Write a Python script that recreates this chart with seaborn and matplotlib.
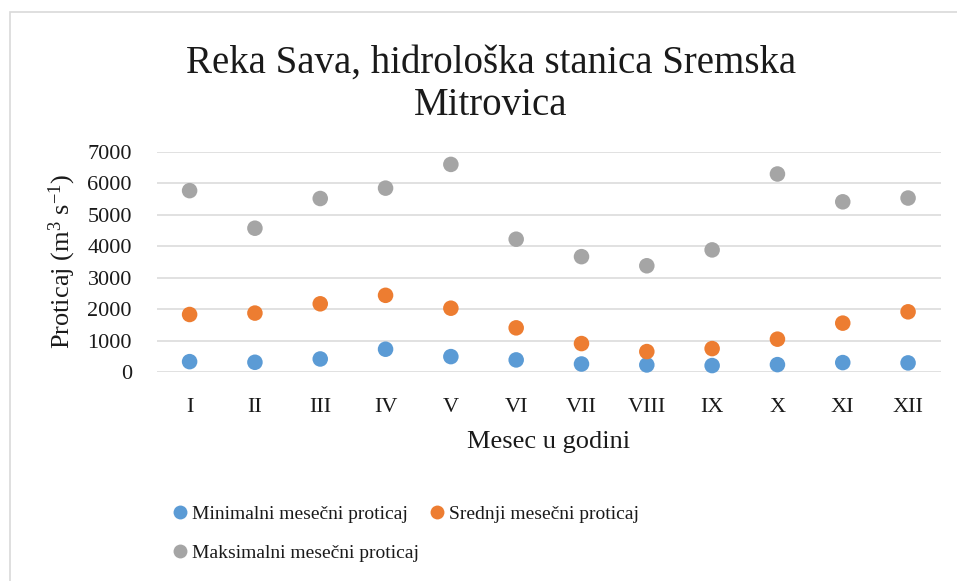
import matplotlib.pyplot as plt
import matplotlib.patches as mpatches
import seaborn as sns
import pandas as pd

months = ["I", "II", "III", "IV", "V", "VI", "VII", "VIII", "IX", "X", "XI", "XII"]
min_flow = [330, 310, 415, 725, 490, 385, 255, 225, 205, 235, 300, 290]
mean_flow = [1830, 1875, 2170, 2440, 2030, 1405, 905, 650, 745, 1045, 1555, 1915]
max_flow = [5770, 4575, 5520, 5850, 6605, 4225, 3670, 3380, 3885, 6300, 5415, 5535]

series = ["Minimalni mesečni proticaj", "Srednji mesečni proticaj", "Maksimalni mesečni proticaj"]
colors = ["#5B9BD5", "#ED7D31", "#A5A5A5"]

df = pd.concat([
    pd.DataFrame({"mesec": months, "proticaj": vals, "serija": name})
    for name, vals in zip(series, [min_flow, mean_flow, max_flow])
])

sns.set_theme(style="white")
plt.rcParams["font.family"] = ["Liberation Serif", "DejaVu Serif"]
plt.rcParams["mathtext.fontset"] = "custom"
plt.rcParams["mathtext.rm"] = "Liberation Serif"
plt.rcParams["mathtext.it"] = "Liberation Serif"

txt = "#1a1a1a"
fig = plt.figure(figsize=(9.57, 5.81), dpi=100)
ax = fig.add_axes([0.164, 0.3597, 0.819, 0.3787])

sns.scatterplot(data=df, x="mesec", y="proticaj", hue="serija", hue_order=series,
                palette=colors, s=125, edgecolor="none", ax=ax, zorder=3,
                clip_on=False, legend=False)

ax.set_xlim(-0.5, 11.5)
ax.set_ylim(0, 7000)
ax.set_yticks(range(0, 7001, 1000))
ax.yaxis.grid(True, color="#D9D9D9", linewidth=1.1)
ax.set_axisbelow(True)
for sp in ax.spines.values():
    sp.set_visible(False)
ax.tick_params(axis="both", length=0, labelsize=16, colors=txt)
ax.tick_params(axis="x", pad=19)
ax.tick_params(axis="y", pad=18)
ax.set_xlabel("")
ax.set_ylabel("")

fig.text(0.513, 0.855, "Reka Sava, hidrološka stanica Sremska\nMitrovica",
         ha="center", va="center", fontsize=28, color=txt, linespacing=1.2)
fig.text(0.5737, 0.240, "Mesec u godini", ha="center", va="center",
         fontsize=19, color=txt)
fig.text(0.065, 0.549, r"Proticaj (m$^{3}$ s$^{-1}$)", ha="center", va="center",
         rotation=90, fontsize=19, color=txt)

handles = [plt.Line2D([], [], marker="o", linestyle="", markersize=10,
                      markerfacecolor=c, markeredgecolor="none") for c in colors]
order = [0, 2, 1]
fig.legend([handles[i] for i in order], [series[i] for i in order],
           ncol=2, loc="upper left", bbox_to_anchor=(0.181, 0.130),
           frameon=False, fontsize=14, handlelength=0.7, handletextpad=0.25,
           columnspacing=0.6, labelspacing=1.1, borderaxespad=0, borderpad=0,
           labelcolor=txt)

fig.add_artist(mpatches.Rectangle((10 / 957, -0.05), 1.1, 1 - 12 / 581 + 0.05,
                                  transform=fig.transFigure, fill=False,
                                  edgecolor="#D9D9D9", linewidth=1.2))

fig.savefig("out.png", dpi=100)
